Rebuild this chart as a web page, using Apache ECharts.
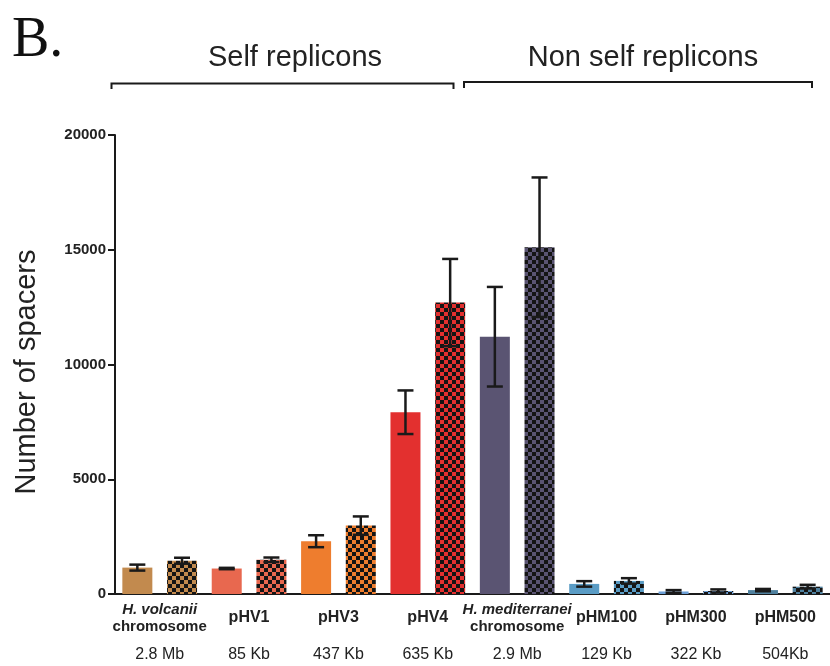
<!DOCTYPE html>
<html>
<head>
<meta charset="utf-8">
<script src="https://cdn.jsdelivr.net/npm/echarts@6/dist/echarts.min.js"></script>
<style>
html,body{margin:0;padding:0;background:#fff;}
#chart{width:830px;height:666px;}
</style>
</head>
<body>
<div id="chart"></div>
<script>
// ---- data ----
var groupNames = ['H. volcanii|chromosome', 'pHV1', 'pHV3', 'pHV4', 'H. mediterranei|chromosome', 'pHM100', 'pHM300', 'pHM500'];
var groupSizes = ['2.8 Mb', '85 Kb', '437 Kb', '635 Kb', '2.9 Mb', '129 Kb', '322 Kb', '504Kb'];
var solidMeans   = [1150, 1110, 2300, 7920, 11210, 440, 110, 170];
var solidErrors  = [130, 30, 260, 950, 2170, 120, 60, 50];
var checkerMeans = [1450, 1490, 2980, 12700, 15110, 570, 130, 320];
var checkerErrors= [130, 100, 400, 1900, 3040, 120, 70, 80];
var groupColors  = ['#C28A4E', '#E8684F', '#EE7D2E', '#E3302F', '#5A5472', '#5A9CC5', '#6C9FD6', '#4F809E'];
var yTicks = [0, 5000, 10000, 15000, 20000];

// ---- build ----
function checker(color) {
  var c = document.createElement('canvas');
  c.width = 8; c.height = 8;
  var ctx = c.getContext('2d');
  ctx.fillStyle = color; ctx.fillRect(0, 0, 8, 8);
  ctx.fillStyle = '#141414';
  ctx.fillRect(0, 0, 4, 4); ctx.fillRect(4, 4, 4, 4);
  return c;
}
var barCats = [], barData = [], errData = [];
for (var i = 0; i < groupNames.length; i++) {
  ['solid', 'checker'].forEach(function (kind) {
    var idx = barCats.length;
    var mean = kind === 'solid' ? solidMeans[i] : checkerMeans[i];
    var err = kind === 'solid' ? solidErrors[i] : checkerErrors[i];
    barCats.push(groupNames[i] + ' ' + kind);
    barData.push({
      value: mean,
      itemStyle: { color: kind === 'solid' ? groupColors[i] : { image: checker(groupColors[i]), repeat: 'repeat' } }
    });
    errData.push([idx, mean - err, mean + err]);
  });
}

var chart = echarts.init(document.getElementById('chart'));
var ink = '#1a1a1a';
chart.setOption({
  animation: false,
  backgroundColor: '#fff',
  grid: { left: 115, top: 135, width: 716, height: 459 },
  xAxis: [
    {
      type: 'category', data: barCats,
      axisLine: { lineStyle: { color: ink, width: 2 } },
      axisTick: { alignWithLabel: true, interval: 0, length: 7, lineStyle: { color: ink, width: 2 } },
      axisLabel: { show: false }
    },
    {
      type: 'category', data: groupNames, position: 'bottom',
      axisLine: { show: false }, axisTick: { show: false },
      axisLabel: {
        interval: 0, margin: 24, verticalAlign: 'middle',
        formatter: function (v) {
          var p = v.split('|');
          if (p.length === 2) return '{it|' + p[0] + '}\n{b|' + p[1] + '}';
          return '{big|' + v + '}';
        },
        rich: {
          it: { fontFamily: 'Liberation Sans, Arial', fontWeight: 'bold', fontStyle: 'italic', fontSize: 15, color: '#222', lineHeight: 17 },
          b: { fontFamily: 'Liberation Sans, Arial', fontWeight: 'bold', fontSize: 15, color: '#222', lineHeight: 17 },
          big: { fontFamily: 'Liberation Sans, Arial', fontWeight: 'bold', fontSize: 16, color: '#222' }
        }
      }
    },
    {
      type: 'category', data: groupSizes, position: 'bottom',
      axisLine: { show: false }, axisTick: { show: false },
      axisLabel: { interval: 0, margin: 61, verticalAlign: 'middle', fontFamily: 'Liberation Sans, Arial', fontSize: 16, color: '#222' }
    }
  ],
  yAxis: {
    type: 'value', min: yTicks[0], max: yTicks[yTicks.length - 1], interval: 5000,
    name: 'Number of spacers', nameLocation: 'middle', nameGap: 74,
    nameTextStyle: { fontFamily: 'Liberation Sans, Arial', fontSize: 29, color: '#222', padding: [0, 15, 0, 0] },
    axisLine: { show: true, lineStyle: { color: ink, width: 2 } },
    axisTick: { show: true, length: 7, lineStyle: { color: ink, width: 2 } },
    axisLabel: { margin: 9, fontFamily: 'Liberation Sans, Arial', fontWeight: 'bold', fontSize: 15, color: '#222',
      formatter: function (v) { return String(v); } },
    splitLine: { show: false }
  },
  series: [
    { type: 'bar', xAxisIndex: 0, data: barData, barWidth: 30 },
    {
      type: 'custom', xAxisIndex: 0, data: errData, z: 5,
      renderItem: function (params, api) {
        var lo = api.coord([api.value(0), api.value(1)]);
        var hi = api.coord([api.value(0), api.value(2)]);
        var w = 8, st = { stroke: ink, lineWidth: 2.5 };
        return { type: 'group', children: [
          { type: 'line', shape: { x1: hi[0], y1: hi[1], x2: lo[0], y2: lo[1] }, style: st },
          { type: 'line', shape: { x1: hi[0] - w, y1: hi[1], x2: hi[0] + w, y2: hi[1] }, style: st },
          { type: 'line', shape: { x1: lo[0] - w, y1: lo[1], x2: lo[0] + w, y2: lo[1] }, style: st }
        ]};
      }
    }
  ],
  graphic: [
    { type: 'text', left: 12, top: 13, style: { text: 'B.', font: '56px "Liberation Serif", serif', fill: '#111' } },
    { type: 'text', x: 295, y: 58, style: { text: 'Self replicons', font: '29px "Liberation Sans", Arial', fill: '#222', align: 'center', verticalAlign: 'middle' } },
    { type: 'text', x: 643, y: 58, style: { text: 'Non self replicons', font: '29px "Liberation Sans", Arial', fill: '#222', align: 'center', verticalAlign: 'middle' } },
    { type: 'polyline', shape: { points: [[111.5, 89], [111.5, 83.5], [453.5, 83.5], [453.5, 89]] }, style: { stroke: ink, lineWidth: 2, fill: null } },
    { type: 'polyline', shape: { points: [[464, 88], [464, 82], [812, 82], [812, 88]] }, style: { stroke: ink, lineWidth: 2, fill: null } }
  ]
});
</script>
</body>
</html>
